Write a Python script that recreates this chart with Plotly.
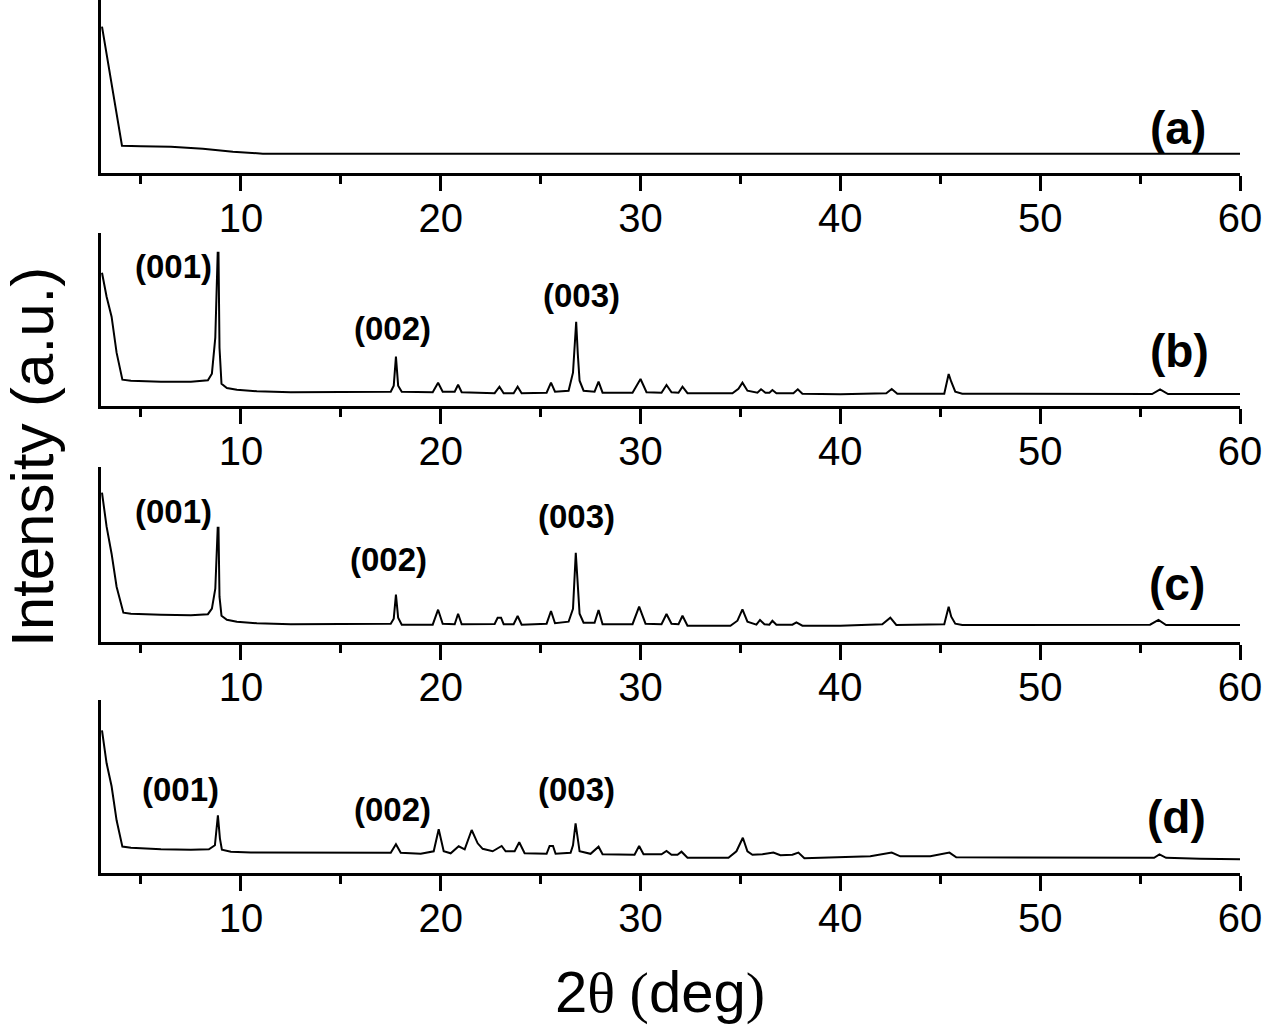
import plotly.graph_objects as go

# ---------------- data (2theta in degrees, intensity in arbitrary units) ----------------
two_theta_a = [3.05, 4.05, 5.0, 6.5, 8.1, 9.6, 11.1, 60.0]
intensity_a = [146, 27, 26.5, 26, 24, 21, 19, 19]

two_theta_b = [3.05, 3.28, 3.53, 3.78, 4.07, 4.5, 6.0, 7.5, 8.35, 8.55, 8.72, 8.84, 8.88, 8.93, 9.03, 9.3,
               9.8, 10.8, 12.5, 17.5, 17.65, 17.76, 17.87, 18.05, 19.6, 19.87, 20.1, 20.7, 20.87, 21.05,
               22.7, 22.94, 23.15, 23.65, 23.85, 24.05, 25.3, 25.52, 25.72, 26.4, 26.62, 26.78, 26.86,
               26.95, 27.15, 27.7, 27.9, 28.1, 29.6, 30.0, 30.3, 31.05, 31.3, 31.55, 31.9, 32.1, 32.35,
               34.6, 34.9, 35.1, 35.35, 35.85, 36.03, 36.25, 36.45, 36.6, 36.8, 37.65, 37.87, 38.1, 40.0,
               42.3, 42.57, 42.85, 45.2, 45.42, 45.55, 45.75, 46.1, 50.0, 55.6, 56.0, 56.4, 60.0]
intensity_b = [133, 109, 89, 53, 26, 25, 24, 24, 25.5, 32, 68, 153, 153, 58, 22, 17.7,
               16, 14.4, 13.5, 14, 20, 49, 20, 14, 13.5, 23, 14, 14, 21, 13.5,
               12.5, 19, 12.5, 12.5, 19, 12.5, 13, 23, 14, 15, 33, 84, 52,
               25, 15, 14, 24, 13, 13, 26.7, 13.5, 13, 20.7, 13.5, 13, 19, 12.5,
               12.5, 17, 23, 15, 13, 16.4, 13, 13, 15.7, 12.5, 12.5, 16.4, 12, 11.5,
               12.5, 16.7, 12, 12, 31.7, 24, 14, 12, 11.7, 11.7, 16.4, 11.7, 11.7]

two_theta_c = [3.05, 3.28, 3.53, 3.78, 4.12, 4.5, 6.0, 7.5, 8.35, 8.55, 8.72, 8.84, 8.88, 8.93, 9.03, 9.3,
               9.8, 10.8, 12.5, 17.5, 17.65, 17.76, 17.87, 18.05, 19.6, 19.87, 20.1, 20.7, 20.87, 21.05,
               22.7, 22.85, 23.02, 23.15, 23.65, 23.85, 24.05, 25.3, 25.52, 25.72, 26.4, 26.62, 26.76,
               26.86, 26.95, 27.15, 27.7, 27.9, 28.1, 29.6, 29.93, 30.25, 31.05, 31.3, 31.55, 31.9, 32.1,
               32.35, 34.5, 34.85, 35.1, 35.35, 35.8, 35.98, 36.2, 36.45, 36.6, 36.8, 37.6, 37.8, 38.1,
               40.0, 42.1, 42.5, 42.8, 45.2, 45.42, 45.55, 45.75, 46.1, 50.0, 55.5, 55.92, 56.3, 60.0]
intensity_c = [149, 115, 88, 55, 29, 28, 27, 26.5, 27.5, 33, 53, 114, 114, 45, 26, 22,
               20, 18.5, 17.5, 18, 23, 47, 24, 17, 17, 32, 18, 17.5, 28, 17.5,
               17.7, 24, 24, 17.5, 17.5, 25.7, 17, 18, 30.7, 18.5, 20, 33, 89,
               55, 28, 19, 19, 31.7, 17.5, 17.5, 35, 18, 17.5, 27.7, 18, 17.5, 26,
               16, 16, 21, 32.4, 20, 17, 21.7, 17.5, 17, 21, 17, 17, 19.4, 16,
               16, 17.5, 24, 16.7, 17.5, 35, 25, 18, 16.7, 16.7, 17, 21.7, 16.7, 16.7]

two_theta_d = [3.05, 3.28, 3.53, 3.78, 4.07, 4.5, 6.0, 7.5, 8.4, 8.7, 8.85, 8.95, 9.05, 9.5, 10.5,
               17.5, 17.76, 18.0, 19.0, 19.65, 19.9, 20.15, 20.5, 20.9, 21.2, 21.55, 21.85, 22.1, 22.6,
               23.05, 23.25, 23.7, 23.93, 24.2, 25.3, 25.45, 25.62, 25.75, 26.5, 26.62, 26.75, 26.85,
               26.95, 27.5, 27.9, 28.1, 29.7, 29.93, 30.15, 31.05, 31.3, 31.55, 31.85, 32.05, 32.35,
               34.4, 34.8, 35.12, 35.35, 35.6, 36.1, 36.65, 37.0, 37.6, 37.9, 38.2, 40.3, 41.5, 42.57,
               43.0, 44.5, 45.46, 45.8, 50.0, 55.7, 55.97, 56.3, 58.0, 60.0]
intensity_d = [143, 110, 87, 53, 26.7, 25.5, 24, 23.5, 24, 28, 58, 35, 23.6, 21.5, 20.7,
               20.5, 29, 20.5, 19.5, 22, 44, 22, 20, 27, 24, 43.3, 30, 24.5, 22,
               27.3, 22, 22, 31, 20, 19.5, 27.3, 27.3, 19.5, 20.5, 28, 50, 36.6,
               22, 19.5, 26.6, 19, 18.5, 27.3, 19, 19, 22.3, 18.5, 18.5, 21.6, 15.5,
               15.5, 22, 35.6, 22, 18.5, 19, 20.7, 18, 18.5, 20.7, 15, 16.5, 17, 20.7,
               17, 17, 20.7, 16, 15.5, 15.5, 19, 15.5, 14.5, 14]

panel_labels = ["(a)", "(b)", "(c)", "(d)"]
peak_labels = ["(001)", "(002)", "(003)"]
x_ticks = [10, 20, 30, 40, 50, 60]

# ---------------- layout geometry (pixels) ----------------
FIG_W, FIG_H = 1267, 1027
ML, MR, MT, MB = 101, 27, 0, 153
PW = FIG_W - ML - MR
PH = FIG_H - MT - MB
panels_px = [(0, 172.7), (233, 405.7), (467, 641.7), (700, 873.3)]  # (top, bottom)


def px_x(px):
    return (px - ML) / PW


def px_y(py):
    return (PH + MT - py) / PH


series = [(two_theta_a, intensity_a), (two_theta_b, intensity_b),
          (two_theta_c, intensity_c), (two_theta_d, intensity_d)]

fig = go.Figure()
layout_axes = {}
for i, (xs, ys) in enumerate(series):
    n = "" if i == 0 else str(i + 1)
    fig.add_trace(go.Scatter(x=xs, y=ys, mode="lines",
                             line=dict(color="black", width=2),
                             xaxis="x" + n, yaxis="y" + n,
                             showlegend=False, hoverinfo="skip"))
    top, bot = panels_px[i]
    layout_axes["xaxis" + n] = dict(
        domain=[0, 1], anchor="y" + n, range=[3, 60],
        showline=True, linecolor="black", linewidth=3,
        ticks="outside", ticklen=15, tickwidth=3, tickcolor="black",
        tickvals=x_ticks, ticktext=[str(t) for t in x_ticks],
        ticklabelstandoff=-7,
        tickfont=dict(family="Liberation Sans, Arial", size=40, color="black"),
        minor=dict(tickvals=[5, 15, 25, 35, 45, 55], ticks="outside", ticklen=8,
                   tickwidth=3, tickcolor="black", showgrid=False),
        showgrid=False, zeroline=False,
    )
    layout_axes["yaxis" + n] = dict(
        domain=[max(0, px_y(bot)), min(1, px_y(top))], anchor="x" + n,
        range=[0, bot - top],
        showline=True, linecolor="black", linewidth=3,
        ticks="", showticklabels=False, showgrid=False, zeroline=False,
    )

annotations = []
label_pos = [(1178, 128), (1179, 351), (1177, 584), (1176, 817)]
for lab, (px, py) in zip(panel_labels, label_pos):
    annotations.append(dict(x=px_x(px), y=px_y(py), xref="paper", yref="paper",
                            text="<b>" + lab + "</b>", showarrow=False,
                            xanchor="center", yanchor="middle",
                            font=dict(family="Liberation Sans, Arial", size=46, color="black")))

peak_pos = [
    [(173.5, 266), (392.5, 329), (581.5, 295)],
    [(173, 511), (388.5, 559.5), (576.5, 516.5)],
    [(180, 789.5), (392.5, 809.5), (576.5, 789.5)],
]
for row in peak_pos:
    for lab, (px, py) in zip(peak_labels, row):
        annotations.append(dict(x=px_x(px), y=px_y(py), xref="paper", yref="paper",
                                text="<b>" + lab + "</b>", showarrow=False,
                                xanchor="center", yanchor="middle",
                                font=dict(family="Liberation Sans, Arial", size=33, color="black")))

annotations.append(dict(x=px_x(33), y=px_y(457), xref="paper", yref="paper",
                        text="Intensity (a.u.)", textangle=-90, showarrow=False,
                        xanchor="center", yanchor="middle",
                        font=dict(family="Liberation Sans, Arial", size=60, color="black")))
annotations.append(dict(x=px_x(660), y=px_y(992), xref="paper", yref="paper",
                        text="2<span style='font-family:Liberation Serif'>θ (</span>deg"
                             "<span style='font-family:Liberation Serif'>)</span>",
                        showarrow=False, xanchor="center", yanchor="middle",
                        font=dict(family="Liberation Sans, Arial", size=58, color="black")))

fig.update_layout(
    width=FIG_W, height=FIG_H,
    margin=dict(l=ML, r=MR, t=MT, b=MB, pad=0),
    paper_bgcolor="white", plot_bgcolor="white",
    showlegend=False,
    annotations=annotations,
    **layout_axes,
)

fig.write_html("out.html",
               config={"displayModeBar": False},
               post_script="document.body.style.margin='0px';"
                           "document.body.style.overflow='hidden';")
